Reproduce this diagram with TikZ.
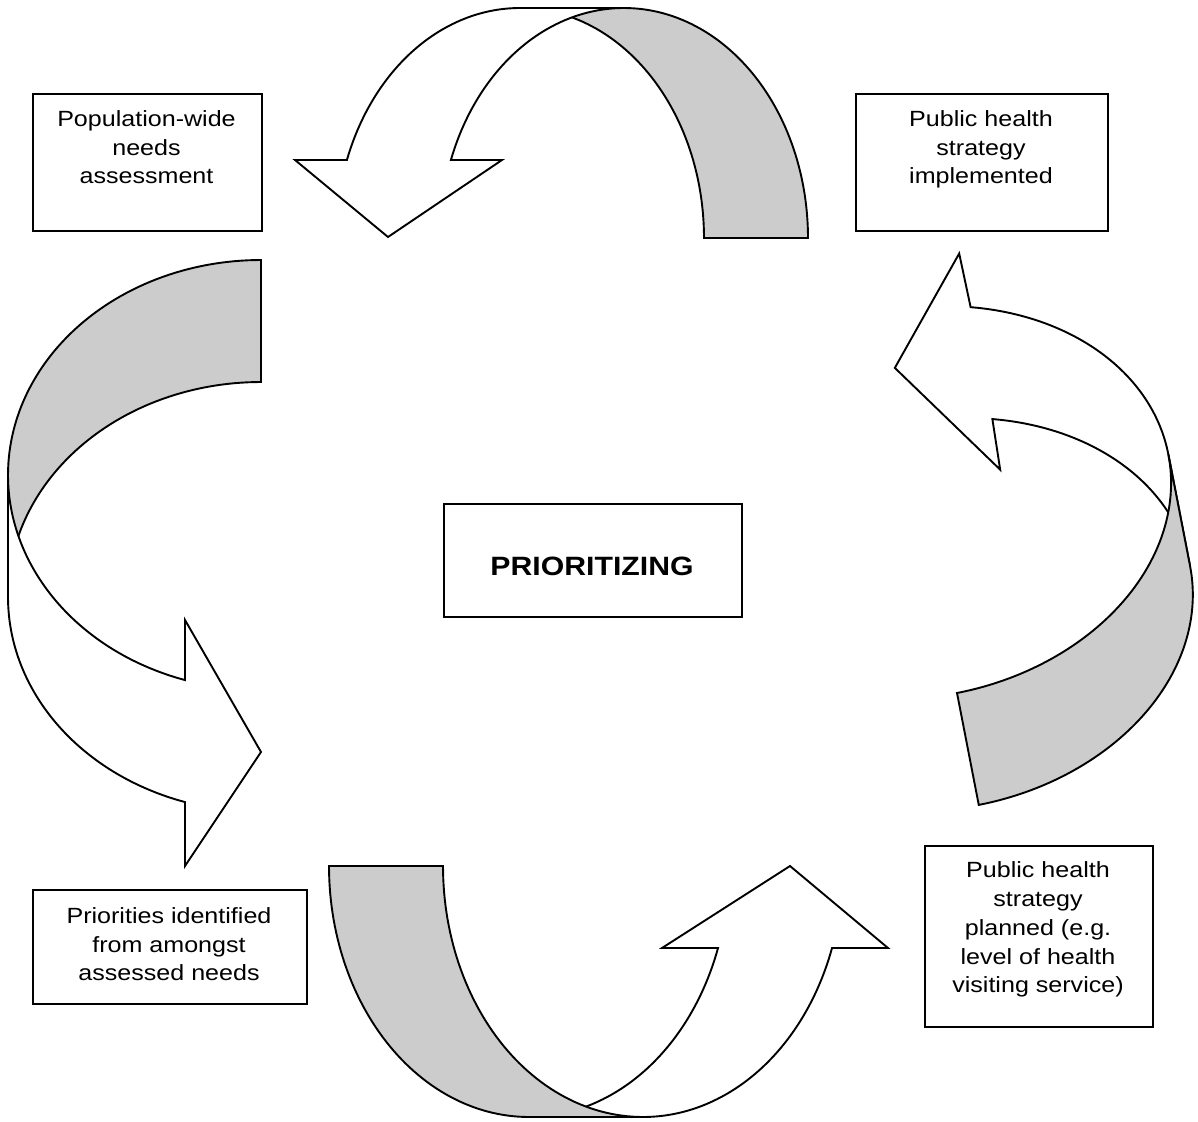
\documentclass[tikz,border=0pt]{standalone}
\usepackage{fontspec}
\setmainfont{Liberation Sans}[FakeStretch=1.14]
\definecolor{bandgray}{RGB}{204,204,204}
\begin{document}
\begin{tikzpicture}[x=1pt,y=-1pt, line width=1.9pt, line join=miter,
  frontband/.style={draw=black, fill=white},
  backband/.style={draw=black, fill=bandgray},
  box/.style={draw=black, rectangle, inner sep=0pt, anchor=north west},
  txt/.style={align=center, inner sep=0pt, anchor=north, font=\fontsize{22}{28.7}\selectfont}]
\useasboundingbox[fill=white] (0,0) rectangle (1198,1121);

% ---------- top arrow (white in front) ----------
\path[backband] plot[domain=270:360, samples=60, variable=\t] ({624+184*cos(\t)},{238+230*sin(\t)})
  -- plot[domain=0:-90, samples=60, variable=\t] ({520+184*cos(\t)},{238+230*sin(\t)}) -- cycle;
\path[frontband] plot[domain=199.82:270, samples=60, variable=\t] ({520+184*cos(\t)},{238+230*sin(\t)})
  -- plot[domain=270:199.82, samples=60, variable=\t] ({624+184*cos(\t)},{238+230*sin(\t)})
  -- (502,160) -- (388,237) -- (295,160) -- cycle;

% ---------- left arrow (white in front) ----------
\path[backband] plot[domain=270:180, samples=60, variable=\t] ({261+253*cos(\t)},{475+215*sin(\t)})
  -- plot[domain=180:270, samples=60, variable=\t] ({261+253*cos(\t)},{597+215*sin(\t)}) -- cycle;
\path[frontband] plot[domain=107.48:180, samples=60, variable=\t] ({261+253*cos(\t)},{475+215*sin(\t)})
  -- plot[domain=180:107.48, samples=60, variable=\t] ({261+253*cos(\t)},{597+215*sin(\t)})
  -- (185,866) -- (261,752) -- (185,620) -- cycle;

% ---------- bottom arrow (grey in front) ----------
\path[frontband] plot[domain=90:19.07, samples=60, variable=\t] ({643+200*cos(\t)},{866+251*sin(\t)})
  -- (888,948) -- (790,866) -- (662,948)
  -- plot[domain=19.07:90, samples=60, variable=\t] ({529+200*cos(\t)},{866+251*sin(\t)}) -- cycle;
\path[backband] plot[domain=180:90, samples=60, variable=\t] ({529+200*cos(\t)},{866+251*sin(\t)})
  -- plot[domain=90:180, samples=60, variable=\t] ({643+200*cos(\t)},{866+251*sin(\t)}) -- cycle;

% ---------- right arrow (grey in front) ----------
\begin{scope}[shift={(957,693)}, rotate=11]
\path[frontband] plot[domain=0:-69.89, samples=60, variable=\t] ({253*cos(\t)},{-194+194*sin(\t)})
  -- (86,-431) -- (1,-331) -- (85,-211)
  -- plot[domain=-69.89:0, samples=60, variable=\t] ({253*cos(\t)},{-80+194*sin(\t)}) -- cycle;
\path[backband] plot[domain=90:0, samples=60, variable=\t] ({253*cos(\t)},{-80+194*sin(\t)})
  -- plot[domain=0:90, samples=60, variable=\t] ({253*cos(\t)},{-194+194*sin(\t)}) -- cycle;
\end{scope}

% ---------- boxes ----------
\node[box, minimum width=229pt, minimum height=137pt] (b1) at (32,93) {};
\node[txt] (t1) at (146.5,109.5) {Population-wide\\needs\\assessment};

\node[box, minimum width=252pt, minimum height=137pt] (b2) at (855,93) {};
\node[txt] (t2) at (981,109.5) {Public health\\strategy\\implemented};

\node[box, minimum width=298pt, minimum height=113pt] (b3) at (443,503) {};
\node[anchor=base, inner sep=0pt, font=\fontsize{26.5}{30}\selectfont\bfseries] (t3) at (592,575.5) {PRIORITIZING};

\node[box, minimum width=274pt, minimum height=114pt] (b4) at (32,889) {};
\node[txt] (t4) at (169,906.5) {Priorities identified\\from amongst\\assessed needs};

\node[box, minimum width=228pt, minimum height=181pt] (b5) at (924,845) {};
\node[txt] (t5) at (1038,861) {Public health\\strategy\\planned (e.g.\\level of health\\visiting service)};
\end{tikzpicture}
\end{document}
